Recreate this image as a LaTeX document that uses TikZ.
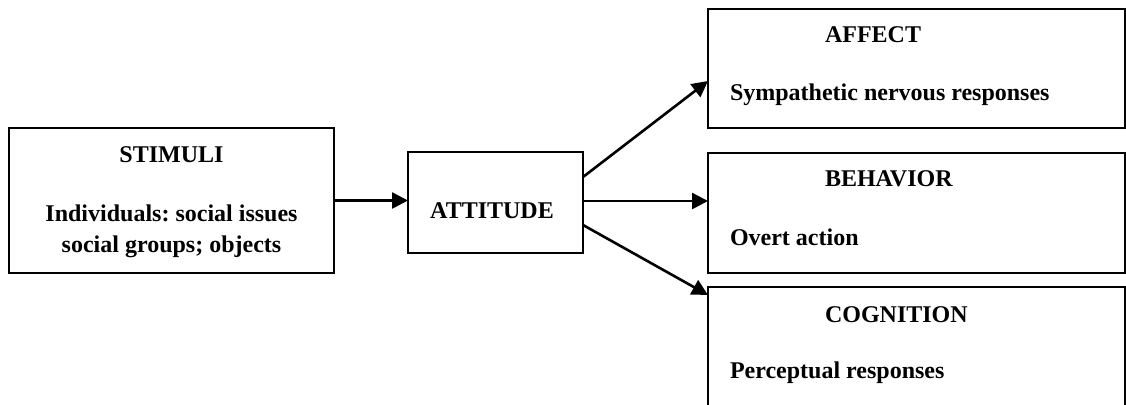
\documentclass[tikz,border=0pt]{standalone}
\usepackage{fontspec}
\setmainfont{Liberation Serif}
\usetikzlibrary{arrows.meta,calc}
\frenchspacing
\begin{document}
\begin{tikzpicture}[x=1pt,y=-1pt,
  box/.style={draw=black,line width=2.2pt,rectangle,inner sep=0pt,outer sep=0pt},
  txt/.style={inner sep=0pt,outer sep=0pt,font=\fontsize{24}{31}\selectfont\bfseries},
  arr/.style={line width=2.6pt,-{Triangle[length=16pt,width=16pt]}}]
\useasboundingbox (0,0) rectangle (1126,404);
\fill[white] (0,0) rectangle (1126,404);
% boxes
\node[box,minimum width=325pt,minimum height=145pt] (stim) at (171.5,200.5) {};
\node[box,minimum width=175pt,minimum height=101pt] (att) at (495.5,202.5) {};
\node[box,minimum width=417pt,minimum height=119pt] (aff) at (916.5,68.5) {};
\node[box,minimum width=417pt,minimum height=120pt] (beh) at (916.5,213) {};
\node[box,minimum width=417pt,minimum height=140pt] (cog) at (916.5,357) {};
% texts
\node[txt,anchor=base] (stimT) at (171.5,162) {STIMULI};
\node[txt,anchor=base] (stimA) at (171.5,221) {Individuals: social issues};
\node[txt,anchor=base] (stimB) at (171.5,252) {social groups; objects};
\node[txt,anchor=base] (attT) at (492,218) {ATTITUDE};
\node[txt,anchor=base west] (affT) at (825,42) {AFFECT};
\node[txt,anchor=base west] (affB) at (730,100) {Sympathetic nervous responses};
\node[txt,anchor=base west] (behT) at (825,186) {BEHAVIOR};
\node[txt,anchor=base west] (behB) at (730,245) {Overt action};
\node[txt,anchor=base west] (cogT) at (825,322) {COGNITION};
\node[txt,anchor=base west] (cogB) at (730,378) {Perceptual responses};
% connectors
\draw[arr] (stim.east) -- (stim.east -| att.west);
\coordinate (a1) at ($(att.east)+(0,-25.5)$);
\coordinate (a2) at ($(att.east)+(0,-1.5)$);
\coordinate (a3) at ($(att.east)+(0,22.5)$);
\draw[arr] (a1) -- ($(aff.west)+(0,12.5)$);
\draw[arr] (a2) -- (a2 -| beh.west);
\draw[arr] (a3) -- ($(cog.north west)+(0,8)$);
\end{tikzpicture}
\end{document}
